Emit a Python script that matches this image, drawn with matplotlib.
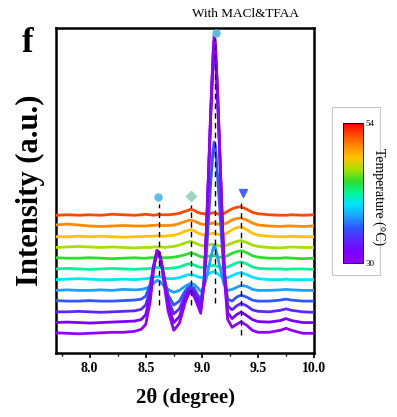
import matplotlib
matplotlib.use("Agg")
import matplotlib.pyplot as plt
from matplotlib.colors import LinearSegmentedColormap, Normalize
from matplotlib.cm import ScalarMappable
from matplotlib.patches import Rectangle
from matplotlib.ticker import MultipleLocator, FormatStrFormatter

SERIF = ["Liberation Serif", "DejaVu Serif"]
plt.rcParams["font.family"] = SERIF

# 2theta sample positions shared by all scans
two_theta = [7.70, 7.80, 7.90, 8.00, 8.10, 8.20, 8.30, 8.40, 8.46, 8.50,
             8.54, 8.57, 8.60, 8.62, 8.64, 8.67, 8.70, 8.75, 8.80, 8.85,
             8.88, 8.90, 8.93, 8.96, 8.99, 9.02, 9.04, 9.06, 9.08, 9.10,
             9.11, 9.12, 9.14, 9.16, 9.18, 9.20, 9.23, 9.27, 9.31, 9.35,
             9.40, 9.45, 9.50, 9.60, 9.70, 9.75, 9.80, 9.90, 10.00]

temps = [30, 32, 34, 36, 38, 40, 42, 44, 46, 48, 50, 52]

# intensity (a.u., baseline removed) of each scan, lowest temperature first
i_30 = [0.5, 0, -0.5, 0, 0.5, 1, 1, 2, 4, 9, 32, 64, 83, 81, 70, 45, 22, 3, 10, 30,
        39, 41, 37, 29, 20, 50, 100, 160, 225, 280, 298, 292, 245, 182, 118, 58, 14, 6, 9, 11.5,
        8, 3, 1, 1, 3, 5, 3, 0, 0]
i_32 = [0, 0.5, 0, -0.5, 0, 0.5, 1, 1.5, 3, 8, 27, 55, 71, 69, 59, 37, 17, 0, 6, 22,
        30, 32, 29, 21, 12, 40, 90, 150, 212, 265, 282, 276, 230, 170, 108, 52, 10, 4, 8, 10.5,
        7, 3, 1, 0.5, 2, 4, 2, 0, 0]
i_34 = [0, 0, 0.5, 0, -0.5, 0, 0.5, 1, 2.5, 7, 22, 46, 61, 59, 50, 30, 12, -2, 3, 16,
        22, 24, 21, 14, 6, 30, 78, 136, 198, 248, 262, 257, 212, 156, 97, 44, 6, 2, 6, 8.5,
        6, 2, 0.5, 0, 1.5, 3, 1.5, 0, -0.5]
i_36 = [0.5, 0, 0, 0.5, 0, 0, 0.5, 1, 2, 5, 17, 35, 48, 47, 38, 21, 6, -4, 0, 10,
        14, 15, 13, 7, 1, 18, 46, 82, 120, 150, 159, 155, 126, 92, 56, 24, 2, 0, 4, 6,
        4, 1, 0, 0, 1, 2, 1, 0, 0]
i_38 = [0, 0.5, 0, 0, 0.5, 0, 1, 0.5, 1, 2, 4, 7, 10, 9.5, 7, 4, 1, -2, 0, 4,
        6, 7, 6, 3, -1, 4, 12, 22, 33, 42, 45, 43, 34, 24, 14, 5, 0, 1, 3, 5,
        4, 1, 0, 0, 0.5, 1, 0.5, 0, 0]
i_40 = [0, 0.5, 1, 0.5, 0, 0, 0.5, 0, 0.5, 1, 1.5, 2.5, 3, 3, 2.5, 1.5, 1, 1, 2, 4,
        5, 5, 4.5, 3, 2, 3, 4, 5.5, 7, 8, 8, 7.5, 6, 4, 2.5, 1.5, 2, 4, 6, 7,
        5, 2.5, 1, 0, 0, 0.5, 0, 0, 0]
i_42 = [0, 0.5, 0, -0.5, 0, 0.5, 0, -0.5, 0, 0, 0.5, 1, 1.5, 1.5, 1, 0.5, 0.5, 1, 2, 4,
        5, 5, 4, 2.5, 1.5, 1.5, 2, 2.5, 3, 3.5, 3.5, 3, 2.5, 1.5, 1, 1, 2, 4, 6, 7,
        5, 2, 0.5, 0, 0, -0.5, 0, 0, -0.5]
i_44 = [0.5, 0, 0, 0.5, 0, -0.5, 0, 0.5, 0, 0, 0.5, 0.5, 1, 1, 0.5, 0.5, 0.5, 1, 2, 3.5,
        4.5, 5, 4.5, 3, 1.5, 1, 1.5, 2, 2.5, 2.5, 2.5, 2, 1.5, 1, 1, 1.5, 2.5, 5, 6.5, 7.5,
        5.5, 2.5, 1, 0, 0, 0.5, 0, -0.5, 0]
i_46 = [0, 0.5, 1, 0.5, 0, 0.5, 0, -0.5, 0, 0, 0, 0.5, 0.5, 0.5, 0.5, 0, 0.5, 1, 2.5, 4.5,
        5.5, 6, 5, 3.5, 2, 1.5, 2, 2.5, 3, 3, 3, 2.5, 2, 1.5, 1, 1.5, 2.5, 4.5, 6, 7,
        5, 2.5, 1, 0, -0.5, 0, 0.5, 0, 0]
i_48 = [0, 0, 0.5, 0, 0.5, 0, -0.5, 0, 0, 0.5, 0.5, 0.5, 1, 1, 0.5, 0.5, 1, 1.5, 3, 5.5,
        6.5, 7, 6, 4, 2.5, 2, 2, 2.5, 3, 3.5, 3.5, 3, 2.5, 2, 2, 2.5, 4, 7, 9, 10,
        7, 3.5, 1.5, 0.5, 0, 0, 0.5, 0, 0]
i_50 = [1, 2, 1, 0, -0.5, 0, 0.5, 0, 0, 0, 0.5, 0.5, 1, 1, 0.5, 0.5, 0.5, 1, 2.5, 4.5,
        5.5, 6, 5, 3.5, 2, 1.5, 1.5, 2, 2.5, 3, 3, 2.5, 2, 1.5, 1.5, 2, 3.5, 6, 7.5, 8,
        6, 3, 1, 0, -0.5, 0, 0, -0.5, 0]
i_52 = [0, 0.5, 0, 0.5, 0, 1, 0.5, 0, 0.5, 1, 0.5, 0, 0.5, 1, 0.5, 0.5, 0.5, 1, 2, 4,
        5, 6, 5, 3, 2, 1.5, 1, 1.5, 2, 2.5, 2.5, 2, 1.5, 1, 1, 2, 4, 6.5, 8, 8.5,
        6, 3, 1.5, 0.5, 0, 0, 0.5, 0, 0.5]
scans = [i_30, i_32, i_34, i_36, i_38, i_40, i_42, i_44, i_46, i_48, i_50, i_52]

# reflection markers
ref_pos = [8.62, 8.90, 9.12, 9.35]
marker_x = [8.61, 8.90, 9.37, 9.125]
marker_y = [156, 157, 160, 320]
marker_style = ["o", "D", "v", "o"]
marker_color = ["#5bbde6", "#9fd4c0", "#4466ee", "#5bbde6"]

cmap_colors = ["#8f00ff", "#7a00ff", "#5a28ff", "#2f55ff", "#1ea0ff", "#00e5ff",
               "#00f59a", "#2ede2e", "#a6e000", "#ffc400", "#ff8c00", "#ff4a00", "#ff0000"]
cmap = LinearSegmentedColormap.from_list("temp", cmap_colors)
norm = Normalize(vmin=30, vmax=54)

base = 19.7
step = 10.73

fig = plt.figure(figsize=(3.97, 4.17), dpi=100)
ax = fig.add_axes([56 / 397, 1 - 353 / 417, 258 / 397, 325 / 417])

n = len(scans)
for i in range(n - 1, -1, -1):
    y = [v + base + i * step for v in scans[i]]
    ax.plot(two_theta, y, color=cmap(norm(temps[i])), lw=2.0, zorder=3 + (n - i),
            solid_joinstyle="round")

dash_spans = [(48, 149), (48, 148), (50, 315), (18, 153)]
for xp, (y0, y1) in zip(ref_pos, dash_spans):
    ax.plot([xp, xp], [y0, y1], color="black", lw=1.0, ls=(0, (4, 3)), zorder=30)

sizes = [5, 5.5, 6, 5]
for mx, my, ms, mc, sz in zip(marker_x, marker_y, marker_style, marker_color, sizes):
    ax.plot(mx, my, marker=ms, color=mc, ms=sz, mec=mc, zorder=31, clip_on=False)

ax.set_xlim(7.7, 10.0)
ax.set_ylim(0, 325)
ax.set_yticks([])
ax.xaxis.set_major_locator(MultipleLocator(0.5))
ax.xaxis.set_minor_locator(MultipleLocator(0.25))
ax.xaxis.set_major_formatter(FormatStrFormatter("%.1f"))
ax.tick_params(axis="x", which="major", direction="out", length=3.5, width=1.2, pad=3,
               labelsize=10)
ax.tick_params(axis="x", which="minor", direction="out", length=2, width=1.0)
for lab in ax.get_xticklabels():
    lab.set_fontweight("bold")
for sp in ax.spines.values():
    sp.set_linewidth(1.8)

fig.text(30 / 397, 0.543, "Intensity (a.u.)", rotation=90, ha="center", va="center",
         fontsize=22, fontweight="bold")
fig.text(185 / 397, 1 - 398 / 417, "2\u03b8 (degree)", ha="center", va="center",
         fontsize=15, fontweight="bold")
fig.text(27.5 / 397, 1 - 52 / 417, "f", ha="center", va="baseline",
         fontsize=25, fontweight="bold")
fig.text(245 / 397, 1 - 14 / 417, "With MACl&TFAA", ha="center", va="center",
         fontsize=9.5)

# colour bar in a light frame
fig.patches.append(Rectangle((332 / 397, 1 - 275 / 417), 48 / 397, 168 / 417,
                             transform=fig.transFigure, fill=False,
                             edgecolor="#c8c8c8", lw=0.8))
cax = fig.add_axes([343 / 397, 1 - 263 / 417, 20 / 397, 140 / 417])
cb = fig.colorbar(ScalarMappable(norm=norm, cmap=cmap), cax=cax)
cb.set_ticks([30, 54])
cb.ax.tick_params(length=0, labelsize=6.5, pad=1.5)
cb.outline.set_linewidth(0.6)
fig.text(379 / 397, 1 - 197 / 417, "Temperature (\u00b0C)", rotation=270,
         ha="center", va="center", fontsize=10)

fig.savefig("out.png", dpi=100)
